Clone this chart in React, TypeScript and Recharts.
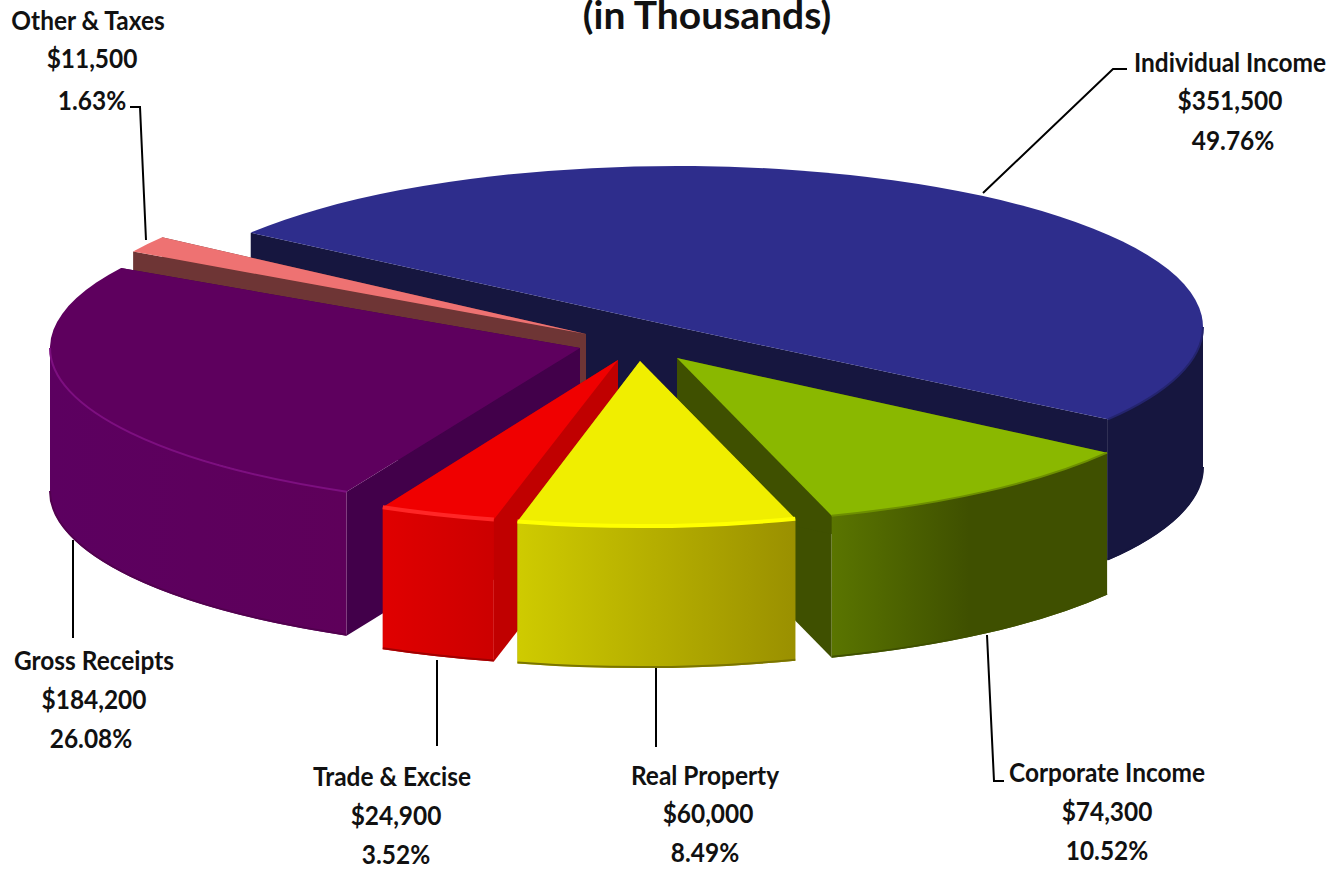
import React from "react";
import { PieChart, Pie } from "recharts";

const categories = ["Individual Income", "Other & Taxes", "Gross Receipts", "Trade & Excise", "Real Property", "Corporate Income"];
const amounts = [351500, 11500, 184200, 24900, 60000, 74300];
const percents = ["49.76%", "1.63%", "26.08%", "3.52%", "8.49%", "10.52%"];
const data = categories.map((name, i) => ({ name, value: amounts[i], pct: percents[i] }));

const WIDTH = 1337, HEIGHT = 870;
const CX = 640, CY = 345, BASE_R = 530;
const FONT = "Lato, 'Open Sans', sans-serif";
const FRONT_SLICE = "Real Property";

type Look = { ax: number; ay: number; rx: number; ry: number; depth: number; top: string; cut: string; wallA: string; wallB: string; rim: string; rimW: number; base: string };
const looks: Record<string, Look> = {
  "Individual Income": { ax: 677, ay: 327, rx: 526, ry: 161, depth: 141, top: "#2e2d8c", cut: "#16163f", wallA: "#16163f", wallB: "#16163f", rim: "#24246e", rimW: 2, base: "#16163f" },
  "Other & Taxes": { ax: 586, ay: 334, rx: 523, ry: 165, depth: 60, top: "#ee7272", cut: "#6e3535", wallA: "#6e3535", wallB: "#6e3535", rim: "#ee7272", rimW: 2, base: "#6e3535" },
  "Gross Receipts": { ax: 580, ay: 348, rx: 530, ry: 160, depth: 144, top: "#5e005e", cut: "#42004a", wallA: "#5c0060", wallB: "#5e005a", rim: "#7d0f80", rimW: 2, base: "#52004f" },
  "Trade & Excise": { ax: 618, ay: 360, rx: 534, ry: 164, depth: 142, top: "#f00000", cut: "#c00000", wallA: "#e00000", wallB: "#cc0000", rim: "#ff2626", rimW: 4, base: "#a00000" },
  "Real Property": { ax: 640, ay: 361, rx: 527, ry: 165, depth: 142, top: "#f0ee00", cut: "#a09800", wallA: "#cfcb00", wallB: "#9a9000", rim: "#ffff00", rimW: 4, base: "#7a7400" },
  "Corporate Income": { ax: 677, ay: 358, rx: 525, ry: 165, depth: 142, top: "#8ab800", cut: "#3f5000", wallA: "#5a7500", wallB: "#3f5000", rim: "#6d8f00", rimW: 2, base: "#3f5000" },
};

type Seg = [number, number][];
const labelLayout: Record<string, { x: number[]; y: number[]; line: Seg }> = {
  "Individual Income": { x: [1230, 1230, 1233], y: [62, 100, 140], line: [[983, 193], [1113, 69], [1127, 69]] },
  "Other & Taxes": { x: [88, 92, 92], y: [20, 58, 100], line: [[146, 240], [140, 107], [130, 107]] },
  "Gross Receipts": { x: [94, 94, 91], y: [660, 699, 738], line: [[73, 540], [73, 638]] },
  "Trade & Excise": { x: [392, 396, 396], y: [776, 815, 854], line: [[437, 660], [437, 746]] },
  "Real Property": { x: [705, 708, 705], y: [775, 813, 852], line: [[656, 668], [656, 747]] },
  "Corporate Income": { x: [1107, 1107, 1107], y: [772, 811, 850], line: [[987, 635], [994, 781], [1004, 781]] },
};

const rad = (a: number) => (a * Math.PI) / 180;

function Slice3D(props: any) {
  const { startAngle, endAngle, name, payload } = props;
  const key = name ?? payload?.name;
  const look = looks[key];
  const { ax, ay, rx: RX, ry: RY, depth: DEPTH } = look;
  const pt = (a: number): [number, number] => [ax + RX * Math.cos(rad(a)), ay - RY * Math.sin(rad(a))];
  const [x1, y1] = pt(startAngle);
  const [x2, y2] = pt(endAngle);
  const large = endAngle - startAngle > 180 ? 1 : 0;
  const gid = "wall" + key.replace(/[^A-Za-z]/g, "");

  const walls: [number, number][] = [];
  for (const k of [-1, 0, 1]) {
    const lo = Math.max(startAngle, 180 + 360 * k);
    const hi = Math.min(endAngle, 360 + 360 * k);
    if (hi > lo) walls.push([lo, hi]);
  }
  const face = (a: number) => {
    const [px, py] = pt(a);
    return `M${ax},${ay} L${px},${py} L${px},${py + DEPTH} L${ax},${ay + DEPTH} Z`;
  };
  return (
    <g>
      <defs>
        <linearGradient id={gid} x1="0" y1="0" x2="1" y2="0">
          <stop offset="0" stopColor={look.wallA} />
          <stop offset={key === "Corporate Income" ? "0.5" : "1"} stopColor={look.wallB} />
        </linearGradient>
      </defs>
      <path d={face(startAngle)} fill={look.cut} />
      <path d={face(endAngle)} fill={look.cut} />
      {walls.map(([lo, hi]) => {
        const [a, b] = pt(lo);
        const [c, d] = pt(hi);
        return (
          <g key={lo}>
            <path
              d={`M${a},${b} A${RX},${RY} 0 0 0 ${c},${d} L${c},${d + DEPTH} A${RX},${RY} 0 0 1 ${a},${b + DEPTH} Z`}
              fill={`url(#${gid})`}
            />
            <path d={`M${a},${b + DEPTH - 1} A${RX},${RY} 0 0 0 ${c},${d + DEPTH - 1}`} fill="none" stroke={look.base} strokeWidth={2} />
          </g>
        );
      })}
      <path d={`M${ax},${ay} L${x1},${y1} A${RX},${RY} 0 ${large} 0 ${x2},${y2} Z`} fill={look.top} />
      {walls.map(([lo, hi]) => {
        const [a, b] = pt(lo);
        const [c, d] = pt(hi);
        return <path key={lo} d={`M${a},${b} A${RX},${RY} 0 0 0 ${c},${d}`} fill="none" stroke={look.rim} strokeWidth={look.rimW} />;
      })}
    </g>
  );
}

const BackSlices = (props: any) => ((props.name ?? props.payload?.name) === FRONT_SLICE ? <g /> : <Slice3D {...props} />);
const FrontSlice = (props: any) => ((props.name ?? props.payload?.name) === FRONT_SLICE ? <Slice3D {...props} /> : <g />);

function SliceLabel(props: any) {
  const { name, value, payload } = props;
  const key = name ?? payload?.name;
  const layout = labelLayout[key];
  const rows = [key, "$" + Number(value).toLocaleString("en-US"), payload?.pct];
  return (
    <g>
      <polyline points={layout.line.map((p) => p.join(",")).join(" ")} fill="none" stroke="#000" strokeWidth={2} />
      {rows.map((row, i) => (
        <text key={i} transform={`translate(${layout.x[i]},${layout.y[i]}) scale(0.94,1)`} textAnchor="middle" dominantBaseline="central"
          fontFamily={FONT} fontWeight={700} fontSize={26} fill="#111">
          {row}
        </text>
      ))}
    </g>
  );
}

export default function App() {
  const shared = {
    data, dataKey: "value", nameKey: "name", cx: CX, cy: CY, innerRadius: 0, outerRadius: BASE_R,
    startAngle: -35, endAngle: 325, stroke: "none", isAnimationActive: false,
  };
  return (
    <div style={{ position: "absolute", left: 0, top: 0, width: WIDTH, height: HEIGHT, background: "#fff", overflow: "hidden" }}>
      <PieChart width={WIDTH} height={HEIGHT} margin={{ top: 0, right: 0, bottom: 0, left: 0 }}>
        <text x={707} y={14} textAnchor="middle" dominantBaseline="central" fontFamily={FONT} fontWeight={700} fontSize={39} fill="#111">
          (in Thousands)
        </text>
        <Pie {...shared} shape={BackSlices} label={SliceLabel} labelLine={false} />
        <Pie {...shared} shape={FrontSlice} label={false} labelLine={false} />
      </PieChart>
    </div>
  );
}
